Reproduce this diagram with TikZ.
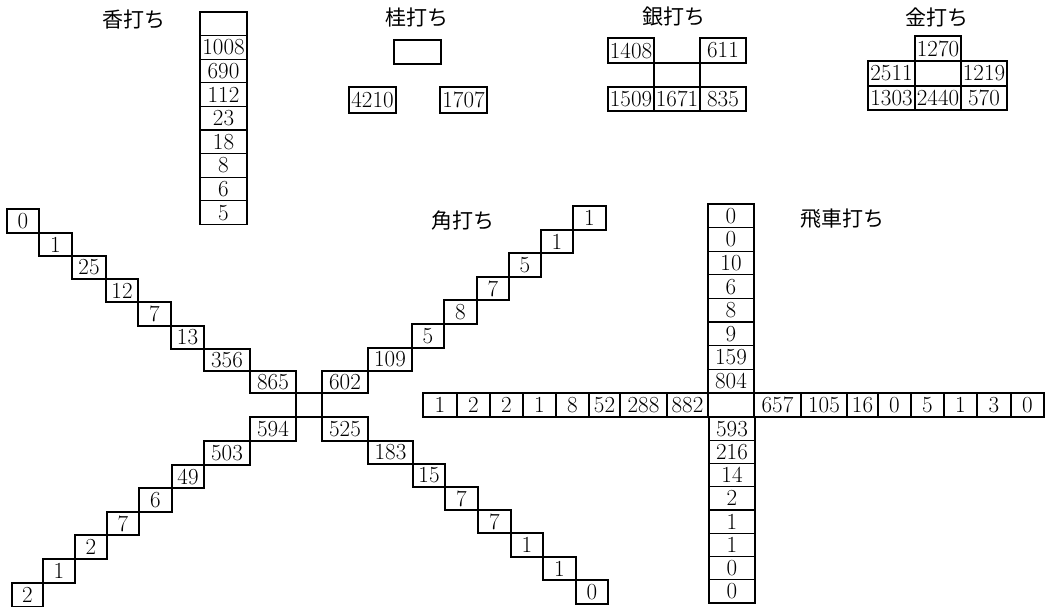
\documentclass[tikz,border=0pt]{standalone}
\usepackage{fontspec}
\newfontfamily\jpfont{Noto Sans CJK JP}
\tikzset{
  cell/.style={draw, line width=1.1pt, inner sep=0pt, outer sep=0pt,
    font=\fontsize{23}{26}\selectfont},
  ttl/.style={inner sep=0pt, font=\jpfont\fontsize{21}{24}\selectfont}
}
% \bx{name}{left}{top}{width}{height}{text}
\newcommand\bx[6]{\node[cell,minimum width=#4pt,minimum height=#5pt] (#1) at ({#2+#4/2},{#3+#5/2}) {#6};}
\begin{document}
\begin{tikzpicture}[x=1pt,y=-1pt]
\useasboundingbox (0,0) rectangle (1052,607);

% ---- 香打ち ----
\node[ttl] (tkyo) at (134,20) {香打ち};
\bx{ky0}{200}{12}{47}{23.6}{}
\bx{ky1}{200}{35.6}{47}{23.6}{1008}
\bx{ky2}{200}{59.2}{47}{23.6}{690}
\bx{ky3}{200}{82.8}{47}{23.6}{112}
\bx{ky4}{200}{106.4}{47}{23.6}{23}
\bx{ky5}{200}{130}{47}{23.6}{18}
\bx{ky6}{200}{153.6}{47}{23.6}{8}
\bx{ky7}{200}{177.2}{47}{23.6}{6}
\bx{ky8}{200}{200.8}{47}{23.6}{5}

% ---- 桂打ち ----
\node[ttl] (tkei) at (417,18) {桂打ち};
\bx{ke0}{394}{40}{47}{24}{}
\bx{ke1}{349}{87}{47}{26}{4210}
\bx{ke2}{440}{87}{47}{26}{1707}

% ---- 銀打ち ----
\node[ttl] (tgin) at (674,17) {銀打ち};
\bx{gi1}{608}{38}{46}{25}{1408}
\bx{gi2}{700}{38}{46}{25}{611}
\bx{gi0}{654}{63}{46}{24}{}
\bx{gi3}{608}{87}{46}{24}{1509}
\bx{gi4}{654}{87}{46}{24}{1671}
\bx{gi5}{700}{87}{46}{24}{835}

% ---- 金打ち ----
\node[ttl] (tkin) at (937,17) {金打ち};
\bx{ki1}{915}{36}{46}{25}{1270}
\bx{ki2}{868}{61}{47}{25}{2511}
\bx{ki0}{915}{61}{46}{25}{}
\bx{ki3}{961}{61}{46}{25}{1219}
\bx{ki4}{868}{86}{47}{24}{1303}
\bx{ki5}{915}{86}{46}{24}{2440}
\bx{ki6}{961}{86}{46}{24}{570}

% ---- 角打ち ----
\node[ttl] (tkaku) at (463,221) {角打ち};
\bx{ka0}{296}{393}{26}{24}{}
% upper left
\bx{ul1}{7}{209}{32}{24}{0}
\bx{ul2}{39}{233}{33}{23}{1}
\bx{ul3}{72}{256}{34}{23}{25}
\bx{ul4}{106}{279}{32}{23}{12}
\bx{ul5}{138}{302}{33}{24}{7}
\bx{ul6}{171}{326}{33}{23}{13}
\bx{ul7}{204}{349}{46}{22}{356}
\bx{ul8}{250}{371}{46}{22}{865}
% upper right
\bx{ur1}{322}{371}{46}{22}{602}
\bx{ur2}{368}{348}{44}{23}{109}
\bx{ur3}{412}{324}{32}{24}{5}
\bx{ur4}{444}{300}{33}{24}{8}
\bx{ur5}{477}{277}{32}{23}{7}
\bx{ur6}{509}{253}{32}{24}{5}
\bx{ur7}{541}{230}{32}{23}{1}
\bx{ur8}{573}{206}{33}{24}{1}
% lower left
\bx{ll1}{250}{417}{46}{24}{594}
\bx{ll2}{204}{441}{46}{24}{503}
\bx{ll3}{172}{465}{32}{23}{49}
\bx{ll4}{139}{488}{33}{24}{6}
\bx{ll5}{107}{512}{32}{23}{7}
\bx{ll6}{75}{535}{32}{24}{2}
\bx{ll7}{43}{559}{32}{24}{1}
\bx{ll8}{12}{583}{31}{23.5}{2}
% lower right
\bx{lr1}{322}{417}{46}{24}{525}
\bx{lr2}{368}{441}{45}{23}{183}
\bx{lr3}{413}{464}{32}{23}{15}
\bx{lr4}{445}{487}{33}{23}{7}
\bx{lr5}{478}{510}{33}{23}{7}
\bx{lr6}{511}{533}{32}{24}{1}
\bx{lr7}{543}{557}{33}{23}{1}
\bx{lr8}{576}{580}{32}{24}{0}

% ---- 飛車打ち ----
\node[ttl] (thisha) at (842,219) {飛車打ち};
\bx{hi0}{708}{393}{46}{24}{}
% up
\bx{hu1}{708}{204}{46}{23.6}{0}
\bx{hu2}{708}{227.6}{46}{23.6}{0}
\bx{hu3}{708}{251.2}{46}{23.6}{10}
\bx{hu4}{708}{274.8}{46}{23.6}{6}
\bx{hu5}{708}{298.4}{46}{23.6}{8}
\bx{hu6}{708}{322}{46}{23.6}{9}
\bx{hu7}{708}{345.6}{46}{23.6}{159}
\bx{hu8}{708}{369.2}{46}{23.8}{804}
% left
\bx{hl1}{423}{393}{34}{24}{1}
\bx{hl2}{457}{393}{33}{24}{2}
\bx{hl3}{490}{393}{33}{24}{2}
\bx{hl4}{523}{393}{33}{24}{1}
\bx{hl5}{556}{393}{33}{24}{8}
\bx{hl6}{589}{393}{31}{24}{52}
\bx{hl7}{620}{393}{47}{24}{288}
\bx{hl8}{667}{393}{41}{24}{882}
% right
\bx{hr1}{754}{393}{47}{24}{657}
\bx{hr2}{801}{393}{46}{24}{105}
\bx{hr3}{847}{393}{31}{24}{16}
\bx{hr4}{878}{393}{33}{24}{0}
\bx{hr5}{911}{393}{33}{24}{5}
\bx{hr6}{944}{393}{33}{24}{1}
\bx{hr7}{977}{393}{34}{24}{3}
\bx{hr8}{1011}{393}{33}{24}{0}
% down
\bx{hd1}{709}{417}{46}{23.25}{593}
\bx{hd2}{709}{440.25}{46}{23.25}{216}
\bx{hd3}{709}{463.5}{46}{23.25}{14}
\bx{hd4}{709}{486.75}{46}{23.25}{2}
\bx{hd5}{709}{510}{46}{23.25}{1}
\bx{hd6}{709}{533.25}{46}{23.25}{1}
\bx{hd7}{709}{556.5}{46}{23.25}{0}
\bx{hd8}{709}{579.75}{46}{23.25}{0}
\end{tikzpicture}
\end{document}
